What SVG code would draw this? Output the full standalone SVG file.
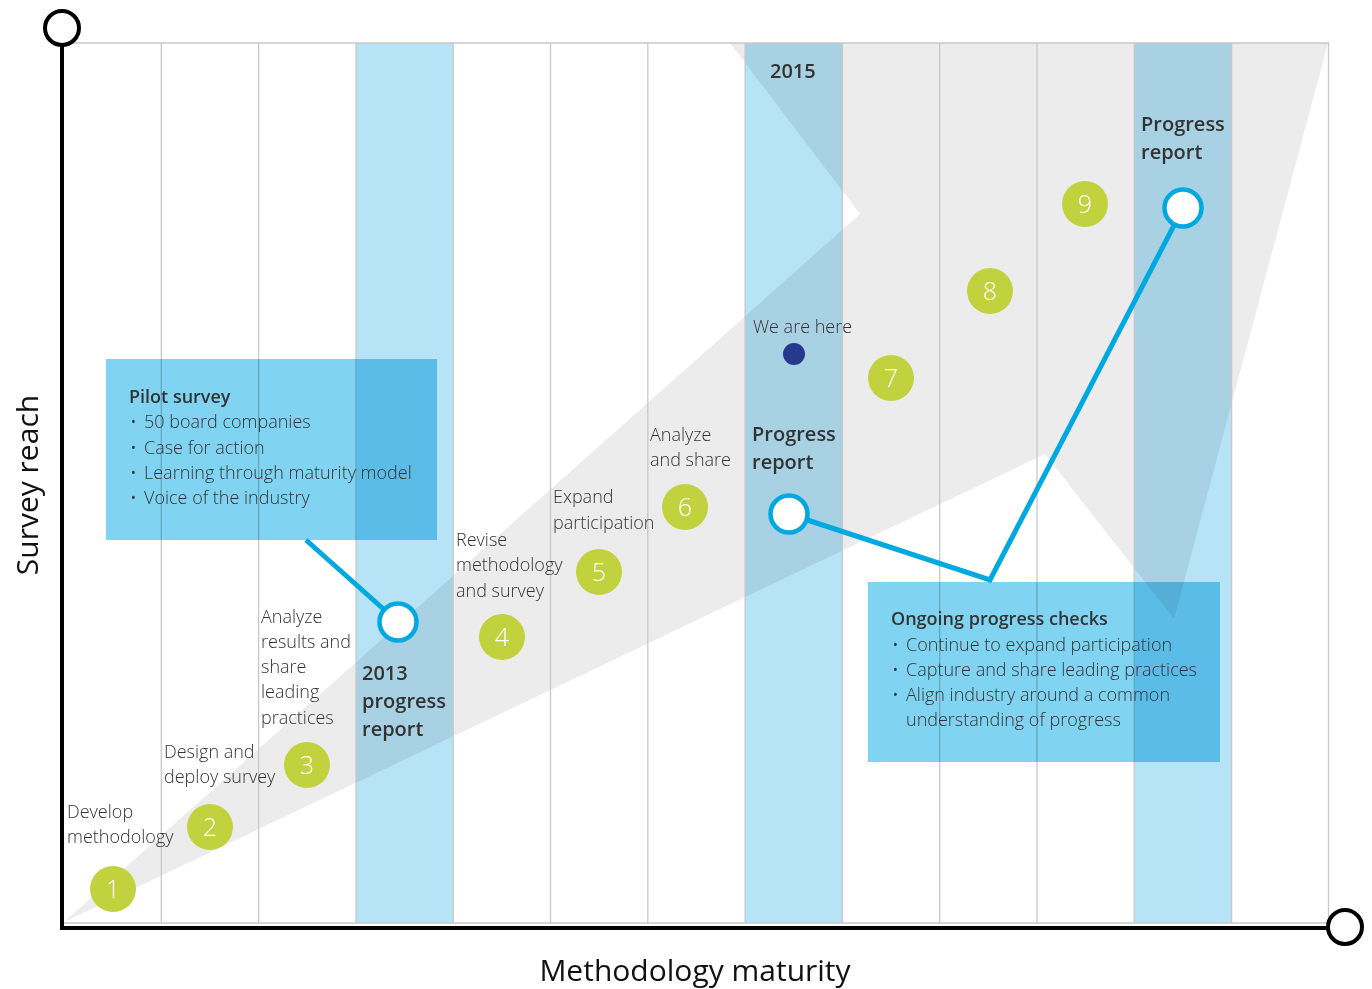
<svg xmlns="http://www.w3.org/2000/svg" width="1372" height="989" viewBox="0 0 1372 989">
<style>
  .grid{stroke:#c8c8c8;stroke-width:1.3;fill:none}
  .band{fill:#b6e3f6;mix-blend-mode:multiply}
  .box{fill:#80d4f1;mix-blend-mode:multiply}
  .axis{stroke:#000;stroke-width:4;fill:none}
  .axisend{stroke:#000;stroke-width:4;fill:#fff}
  .conn{stroke:#00a8e1;stroke-width:5;fill:none;stroke-linejoin:miter}
  .ring{stroke:#00a8e1;stroke-width:4.5;fill:#fff}
  .step{fill:#c2d23f}
  .num{font-family:"Open Sans","Liberation Sans",sans-serif;font-weight:300;font-size:25px;fill:#fff;text-anchor:middle}
  .lbl{font-family:"Open Sans","Liberation Sans",sans-serif;font-weight:300;font-size:18px;fill:#333}
  .bold{font-family:"Open Sans","Liberation Sans",sans-serif;font-weight:600;fill:#333}
  .boxt{font-family:"Open Sans","Liberation Sans",sans-serif;font-weight:300;font-size:18px;fill:#333}
  .axt{font-family:"Open Sans","Liberation Sans",sans-serif;font-weight:400;font-size:30px;fill:#111}
</style>
<rect width="1372" height="989" fill="#fff"/>
<g id="background">
  <polygon points="64,922 860,214 730,43 1328,43 1174,619 1045,454" fill="#ececec"/>
  <rect class="band" x="356" y="43" width="97" height="880"/>
  <rect class="band" x="745" y="43" width="97" height="880"/>
  <rect class="band" x="1134" y="43" width="97" height="880"/>
</g>
<g id="grid">
  <line class="grid" x1="64" y1="43" x2="1329" y2="43"/>
  <line class="grid" x1="64" y1="923" x2="1329" y2="923"/>
  <line class="grid" x1="161.3" y1="43" x2="161.3" y2="923"/>
  <line class="grid" x1="258.6" y1="43" x2="258.6" y2="923"/>
  <line class="grid" x1="356" y1="43" x2="356" y2="923"/>
  <line class="grid" x1="453.2" y1="43" x2="453.2" y2="923"/>
  <line class="grid" x1="550.5" y1="43" x2="550.5" y2="923"/>
  <line class="grid" x1="647.8" y1="43" x2="647.8" y2="923"/>
  <line class="grid" x1="745.1" y1="43" x2="745.1" y2="923"/>
  <line class="grid" x1="842.4" y1="43" x2="842.4" y2="923"/>
  <line class="grid" x1="939.7" y1="43" x2="939.7" y2="923"/>
  <line class="grid" x1="1037" y1="43" x2="1037" y2="923"/>
  <line class="grid" x1="1134.3" y1="43" x2="1134.3" y2="923"/>
  <line class="grid" x1="1231.6" y1="43" x2="1231.6" y2="923"/>
  <line class="grid" x1="1328.5" y1="43" x2="1328.5" y2="923"/>
</g>
<g id="pilot-box">
  <rect class="box" x="106" y="359" width="331" height="181"/>
  <text class="bold" x="129" y="403" font-size="18">Pilot survey</text>
  <text class="boxt"><tspan x="130" y="428">•</tspan><tspan x="144" y="428">50 board companies</tspan></text>
  <text class="boxt"><tspan x="130" y="454">•</tspan><tspan x="144" y="454">Case for action</tspan></text>
  <text class="boxt"><tspan x="130" y="479">•</tspan><tspan x="144" y="479">Learning through maturity model</tspan></text>
  <text class="boxt"><tspan x="130" y="504">•</tspan><tspan x="144" y="504">Voice of the industry</tspan></text>
</g>
<g id="ongoing-box">
  <rect class="box" x="868" y="582" width="352" height="180"/>
  <text class="bold" x="891" y="625" font-size="18">Ongoing progress checks</text>
  <text class="boxt"><tspan x="892" y="651">•</tspan><tspan x="906" y="651">Continue to expand participation</tspan></text>
  <text class="boxt"><tspan x="892" y="676">•</tspan><tspan x="906" y="676">Capture and share leading practices</tspan></text>
  <text class="boxt"><tspan x="892" y="701">•</tspan><tspan x="906" y="701">Align industry around a common</tspan></text>
  <text class="boxt" x="906" y="726">understanding of progress</text>
</g>
<g id="connectors">
  <polyline class="conn" points="306,540 398,622"/>
  <polyline class="conn" points="789,514 990,580 1183,208"/>
</g>
<g id="report-2013">
  <circle class="ring" cx="398" cy="622" r="18.5"/>
  <text class="bold" font-size="20"><tspan x="362" y="680">2013</tspan><tspan x="362" y="708">progress</tspan><tspan x="362" y="736">report</tspan></text>
</g>
<g id="report-2015">
  <circle class="ring" cx="789" cy="514" r="18.5"/>
  <text class="bold" font-size="20"><tspan x="752" y="441">Progress</tspan><tspan x="752" y="469">report</tspan></text>
</g>
<g id="report-final">
  <circle class="ring" cx="1183" cy="208" r="18.5"/>
  <text class="bold" font-size="20"><tspan x="1141" y="131">Progress</tspan><tspan x="1141" y="159">report</tspan></text>
</g>
<g id="year-2015">
  <text class="bold" x="770" y="78" font-size="20">2015</text>
</g>
<g id="we-are-here">
  <circle cx="794" cy="354" r="11" fill="#26398c"/>
  <text class="lbl" x="753" y="333">We are here</text>
</g>
<g id="step1">
  <circle class="step" cx="113" cy="889" r="23"/>
  <text class="num" x="113" y="898">1</text>
  <text class="lbl"><tspan x="67" y="818">Develop</tspan><tspan x="67" y="843">methodology</tspan></text>
</g>
<g id="step2">
  <circle class="step" cx="210" cy="827" r="23"/>
  <text class="num" x="210" y="836">2</text>
  <text class="lbl"><tspan x="164" y="758">Design and</tspan><tspan x="164" y="783">deploy survey</tspan></text>
</g>
<g id="step3">
  <circle class="step" cx="307" cy="765" r="23"/>
  <text class="num" x="307" y="774">3</text>
  <text class="lbl"><tspan x="261" y="623">Analyze</tspan><tspan x="261" y="648">results and</tspan><tspan x="261" y="673">share</tspan><tspan x="261" y="698">leading</tspan><tspan x="261" y="724">practices</tspan></text>
</g>
<g id="step4">
  <circle class="step" cx="502" cy="637" r="23"/>
  <text class="num" x="502" y="646">4</text>
  <text class="lbl"><tspan x="456" y="546">Revise</tspan><tspan x="456" y="571">methodology</tspan><tspan x="456" y="597">and survey</tspan></text>
</g>
<g id="step5">
  <circle class="step" cx="599" cy="572" r="23"/>
  <text class="num" x="599" y="581">5</text>
  <text class="lbl"><tspan x="553" y="503">Expand</tspan><tspan x="553" y="529">participation</tspan></text>
</g>
<g id="step6">
  <circle class="step" cx="685" cy="507" r="23"/>
  <text class="num" x="685" y="516">6</text>
  <text class="lbl"><tspan x="650" y="441">Analyze</tspan><tspan x="650" y="466">and share</tspan></text>
</g>
<g id="step7">
  <circle class="step" cx="891" cy="378" r="23"/>
  <text class="num" x="891" y="387">7</text>
</g>
<g id="step8">
  <circle class="step" cx="990" cy="291" r="23"/>
  <text class="num" x="990" y="300">8</text>
</g>
<g id="step9">
  <circle class="step" cx="1085" cy="204" r="23"/>
  <text class="num" x="1085" y="213">9</text>
</g>
<g id="axes">
  <line class="axis" x1="62" y1="45" x2="62" y2="930"/>
  <line class="axis" x1="60" y1="928" x2="1328" y2="928"/>
  <circle class="axisend" cx="62" cy="28" r="17"/>
  <circle class="axisend" cx="1345" cy="927" r="17"/>
  <text class="axt" transform="translate(38,485) rotate(-90)" text-anchor="middle" font-size="28.5">Survey reach</text>
  <text class="axt" x="695" y="981" text-anchor="middle">Methodology maturity</text>
</g>
</svg>
